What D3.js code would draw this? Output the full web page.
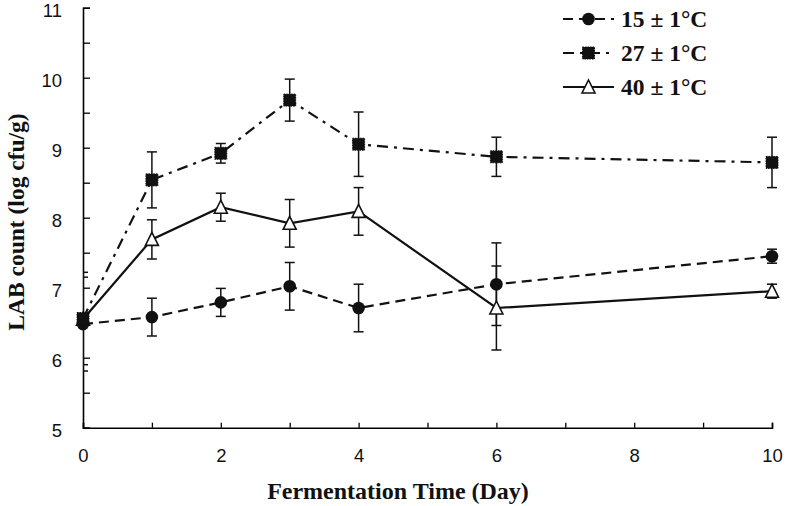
<!DOCTYPE html>
<html><head><meta charset="utf-8">
<script src="https://cdn.jsdelivr.net/npm/d3@7"></script>
<style>body{margin:0;background:#fff}</style>
</head><body>
<svg id="c" width="786" height="506"></svg>
<script>
const days = [0, 1, 2, 3, 4, 6, 10];
const seriesNames = ["15 ± 1°C", "27 ± 1°C", "40 ± 1°C"];
const v15 = [6.48, 6.58, 6.79, 7.02, 6.71, 7.05, 7.45];
const e15 = [0.67, 0.27, 0.20, 0.34, 0.34, 0.59, 0.10];
const v27 = [6.56, 8.54, 8.92, 9.68, 9.05, 8.87, 8.79];
const e27 = [0.66, 0.40, 0.14, 0.30, 0.46, 0.28, 0.36];
const v40 = [6.55, 7.69, 8.15, 7.92, 8.09, 6.71, 6.95];
const e40 = [0.00, 0.28, 0.20, 0.34, 0.34, 0.60, 0.10];
const xTicks = [0, 2, 4, 6, 8, 10];
const yTicks = [5, 6, 7, 8, 9, 10, 11];

const svg = d3.select("#c");
const x = d3.scaleLinear().domain([0, 10]).range([83, 772]);
const y = d3.scaleLinear().domain([5, 11]).range([427.7, 7.7]);

const series = [
  {name: seriesNames[0], v: v15, e: e15, dash: "10,6", marker: "circle"},
  {name: seriesNames[1], v: v27, e: e27, dash: "11,6,3,6", marker: "square"},
  {name: seriesNames[2], v: v40, e: e40, dash: null, marker: "triangle"}
];

const tickFont = "'Liberation Sans', Arial, sans-serif";
const serif = "'Liberation Serif', 'DejaVu Serif', serif";

// axes
const yMinor = d3.range(5, 11.01, 0.5);
const yAxis = d3.axisLeft(y).tickValues(yMinor).tickSize(-7).tickPadding(21)
  .tickFormat(d => yTicks.includes(d) ? d3.format("d")(d) : "");
const gy = svg.append("g").attr("transform", "translate(83,0)").call(yAxis);
gy.select(".domain").attr("stroke-width", 1.6);
gy.selectAll(".tick line").attr("stroke-width", 1.3);
gy.selectAll("text").attr("font-family", tickFont).attr("font-size", 18.5).attr("fill", "#111")
  .attr("dy", "0.5em");

const xAxis = d3.axisBottom(x).tickValues(d3.range(0, 10.01, 1)).tickSize(-5).tickPadding(21)
  .tickFormat(d => xTicks.includes(d) ? d : "");
const gx = svg.append("g").attr("transform", "translate(0,427.7)").call(xAxis);
gx.select(".domain").attr("stroke-width", 1.6);
gx.selectAll(".tick line").attr("stroke-width", 1.3);
gx.selectAll("text").attr("font-family", tickFont).attr("font-size", 18.5).attr("fill", "#111");

// clip for error bars
svg.append("clipPath").attr("id", "clip").append("rect")
  .attr("x", 83).attr("y", 0).attr("width", 703).attr("height", 506);

const line = d3.line().x((d, i) => x(days[i])).y(d => y(d));

function drawMarker(g, type, cx, cy) {
  if (type === "circle") {
    g.append("circle").attr("cx", cx).attr("cy", cy).attr("r", 6.3).attr("fill", "#111");
  } else if (type === "square") {
    g.append("rect").attr("x", cx - 6).attr("y", cy - 6).attr("width", 12).attr("height", 12)
      .attr("fill", "#111").attr("stroke", "#111").attr("stroke-width", 1).attr("stroke-dasharray", "1.5,1");
  } else {
    const s = 13, h = 12;
    g.append("path").attr("d", `M${cx},${cy - h/2 - 1}L${cx + s/2},${cy + h/2}L${cx - s/2},${cy + h/2}Z`)
      .attr("fill", "#fff").attr("stroke", "#111").attr("stroke-width", 1.6);
  }
}

// error bars
const eb = svg.append("g").attr("clip-path", "url(#clip)");
series.forEach(s => {
  s.v.forEach((v, i) => {
    if (!s.e[i]) return;
    const cx = x(days[i]), y1 = y(v + s.e[i]), y2 = y(v - s.e[i]);
    eb.append("line").attr("x1", cx).attr("x2", cx).attr("y1", y1).attr("y2", y2)
      .attr("stroke", "#111").attr("stroke-width", 1.5);
    [y1, y2].forEach(yy => eb.append("line").attr("x1", cx - 5).attr("x2", cx + 5)
      .attr("y1", yy).attr("y2", yy).attr("stroke", "#111").attr("stroke-width", 1.5));
  });
});

// lines & markers
const order = [2, 0, 1];
order.forEach(k => {
  const s = series[k];
  svg.append("path").datum(s.v).attr("d", line).attr("fill", "none")
    .attr("stroke", "#111").attr("stroke-width", 2.2)
    .attr("stroke-dasharray", s.dash);
});
order.forEach(k => {
  const s = series[k];
  const g = svg.append("g");
  s.v.forEach((v, i) => drawMarker(g, s.marker, x(days[i]), y(v)));
});

// legend
const lg = svg.append("g");
const rows = [19, 53, 87];
series.forEach((s, k) => {
  const yy = rows[k];
  lg.append("line").attr("x1", 563).attr("x2", 614).attr("y1", yy).attr("y2", yy)
    .attr("stroke", "#111").attr("stroke-width", 2.2).attr("stroke-dasharray", s.dash);
  drawMarker(lg, s.marker, 588.5, yy);
  lg.append("text").attr("x", 621).attr("y", yy + 8).text(s.name)
    .attr("font-family", serif).attr("font-weight", "bold").attr("font-size", 23.5).attr("fill", "#111");
});

// axis titles
svg.append("text").attr("x", 398).attr("y", 499).attr("text-anchor", "middle")
  .attr("font-family", serif).attr("font-weight", "bold").attr("font-size", 24).attr("fill", "#111")
  .text("Fermentation Time (Day)");
svg.append("text").attr("transform", "translate(24,222) rotate(-90)").attr("text-anchor", "middle")
  .attr("font-family", serif).attr("font-weight", "bold").attr("font-size", 23.5).attr("fill", "#111")
  .text("LAB count (log cfu/g)");
</script>
</body></html>
